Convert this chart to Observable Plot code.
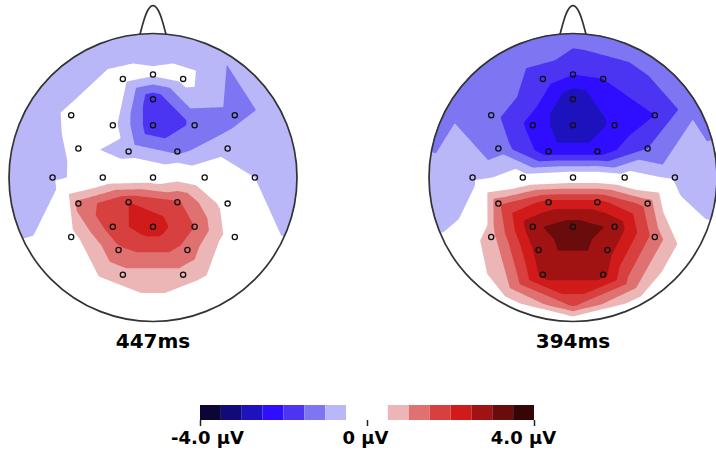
<!DOCTYPE html>
<html><head><meta charset="utf-8">
<script src="https://cdn.jsdelivr.net/npm/d3@7"></script>
<script src="https://cdn.jsdelivr.net/npm/@observablehq/plot@0.6"></script>
<style>
body{margin:0;background:#fff;font-family:"DejaVu Sans",sans-serif;}
#chart{width:716px;height:455px;overflow:hidden;}
#chart svg{display:block;}
</style></head><body><div id="chart"></div>
<script>
// ---- data ----
const maps = ["447ms", "394ms"];
const electrodes = ["Fp1","Fpz","Fp2","F7","F3","AFz","Fz","F4","F8","FT7","FC3","FC4","FT8","T7","C3","Cz","C4","T8","TP7","CP3","CP4","TP8","P7","P3","Pz","P4","P8","PO3","PO4","O1","O2"];
const electrodeX = [-0.21,0,0.21,-0.57,-0.28,0,0,0.29,0.57,-0.52,-0.17,0.17,0.52,-0.70,-0.35,0,0.36,0.71,-0.52,-0.17,0.17,0.52,-0.57,-0.28,0,0.29,0.57,-0.24,0.24,-0.21,0.21];
const electrodeY = [0.68,0.71,0.68,0.43,0.36,0.54,0.36,0.36,0.43,0.20,0.18,0.18,0.20,0,0,0,0,0,-0.18,-0.17,-0.17,-0.18,-0.41,-0.34,-0.34,-0.34,-0.41,-0.50,-0.50,-0.67,-0.67];
const values447 = [-0.3,-0.4,-0.3,-0.4,-0.3,-1.9,-1.9,-1.4,-1.2,-0.35,-0.7,-1.1,-0.7,-0.7,0,0.1,0,-0.5,1.2,2.0,1.6,0.2,0.3,1.8,2.3,1.5,0.1,1.4,1.3,0.8,0.8];
const values394 = [-1.7,-2.0,-2.0,-1.3,-2.2,-2.9,-2.9,-2.4,-2.0,-1.2,-2.3,-2.3,-1.5,-0.7,-0.2,0,-0.2,-0.6,1.4,2.2,2.2,1.3,0.8,2.9,3.3,2.9,1.3,2.75,2.75,2.7,2.7];
// estimated values at the scalp rim (radius 1) and near the lower rim (radius 0.88)
const rimAngles = [90,60,30,0,-30,-60,-90,-120,-150,180,150,120];
const rim447 = [-0.9,-0.95,-0.8,-0.7,-0.45,0,0.1,0,-0.45,-0.75,-0.8,-0.85];
const rim394 = [-1.2,-1.2,-1.1,-0.9,-0.2,0.1,-0.1,0.1,-0.35,-0.95,-1.1,-1.2];
const innerAngles = [-60,-90,-120];
const innerRadius = 0.88;
const inner447 = [0.1,0.3,0.1];
const inner394 = [1.0,1.6,1.0];
const colorThresholds = [-3.5,-3,-2.5,-2,-1.5,-1,-0.5,0,0.5,1,1.5,2,2.5,3,3.5];
const colorRange = ["#0b0636","#120a78","#1e12bf","#2f0dff","#4b35f2","#7d75f2","#b9b7f7","#ffffff","#ffffff","#edb6b6","#df7171","#d84040","#d11a1a","#a11212","#6b0c0c","#360505"];
const contourLevels = [-4, ...colorThresholds];
const noseX = [-0.09,-0.065,-0.035,0,0.035,0.065,0.09];
const noseY = [0.99,1.08,1.155,1.185,1.155,1.08,0.99];
const legendTicks = [-4, 0, 4];
const legendLabels = ["-4.0 µV", "0 µV", "4.0 µV"];

// ---- tables ----
const rad = a => a * Math.PI / 180;
const samples = maps.flatMap((m, k) => {
  const vals = k === 0 ? values447 : values394;
  const rim = k === 0 ? rim447 : rim394;
  const inner = k === 0 ? inner447 : inner394;
  return [
    ...electrodes.map((e, i) => ({map: m, name: e, x: electrodeX[i], y: electrodeY[i], v: vals[i], electrode: true})),
    ...rimAngles.map((a, i) => ({map: m, x: Math.cos(rad(a)), y: Math.sin(rad(a)), v: rim[i], electrode: false})),
    ...innerAngles.map((a, i) => ({map: m, x: innerRadius * Math.cos(rad(a)), y: innerRadius * Math.sin(rad(a)), v: inner[i], electrode: false}))
  ];
});
const noseRows = maps.flatMap(m => noseX.map((x, i) => ({map: m, x, y: noseY[i]})));
const bins = colorRange.map((c, i) => ({
  lo: i === 0 ? -4 : colorThresholds[i - 1],
  hi: i === colorRange.length - 1 ? 4 : colorThresholds[i]
}));
const legendRows = legendTicks.map((t, i) => ({t, label: legendLabels[i]}));
const color = {type: "threshold", domain: colorThresholds, range: colorRange};

const main = Plot.plot({
  width: 716, height: 370,
  marginLeft: 9, marginRight: 0, marginTop: 2, marginBottom: 40,
  style: {fontFamily: "DejaVu Sans", background: "white"},
  fx: {domain: maps, paddingInner: 0.3167, paddingOuter: 0, axis: null},
  x: {domain: [-1, 1], axis: null},
  y: {domain: [-1.055, 1.207], axis: null},
  color,
  marks: [
    Plot.contour(samples, {x: "x", y: "y", fill: "v", fx: "map", interpolate: "barycentric", thresholds: contourLevels, pixelSize: 1}),
    Plot.dot(maps, {fx: d => d, x: () => 0, y: () => 0, r: 190, stroke: "white", strokeWidth: 91, fill: "none"}),
    Plot.dot(maps, {fx: d => d, x: () => 0, y: () => 0, r: 144, stroke: "#333", strokeWidth: 1.7, fill: "none"}),
    Plot.line(noseRows, {fx: "map", x: "x", y: "y", z: "map", curve: "natural", stroke: "#333", strokeWidth: 1.7}),
    Plot.dot(samples.filter(d => d.electrode), {fx: "map", x: "x", y: "y", r: 2.6, stroke: "#111", strokeWidth: 1.3, fill: "none"}),
    Plot.text(maps, {fx: d => d, text: d => d, frameAnchor: "bottom", dy: 17, fontSize: 20, fontWeight: "bold", fill: "black"})
  ]
});

const legend = Plot.plot({
  width: 716, height: 85,
  marginLeft: 200, marginRight: 182, marginTop: 35, marginBottom: 35,
  style: {fontFamily: "DejaVu Sans", background: "white", overflow: "visible"},
  x: {domain: [-4, 4], axis: null},
  y: {domain: [0, 1], axis: null},
  color,
  marks: [
    Plot.rect(bins, {x1: "lo", x2: "hi", fill: d => (d.lo + d.hi) / 2}),
    Plot.ruleX(legendRows, {x: "t", y1: () => 0, y2: () => -0.4, stroke: "#222", strokeWidth: 1.5}),
    Plot.text(legendRows.slice(0, 1), {x: "t", text: "label", frameAnchor: "bottom", dy: 23, dx: 7, fontSize: 18, fontWeight: "bold", fill: "black"}),
    Plot.text(legendRows.slice(1, 2), {x: "t", text: "label", frameAnchor: "bottom", dy: 23, dx: -2, fontSize: 18, fontWeight: "bold", fill: "black"}),
    Plot.text(legendRows.slice(2, 3), {x: "t", text: "label", frameAnchor: "bottom", dy: 23, dx: -11, fontSize: 18, fontWeight: "bold", fill: "black"})
  ]
});

document.getElementById("chart").append(main, legend);
</script></body></html>
